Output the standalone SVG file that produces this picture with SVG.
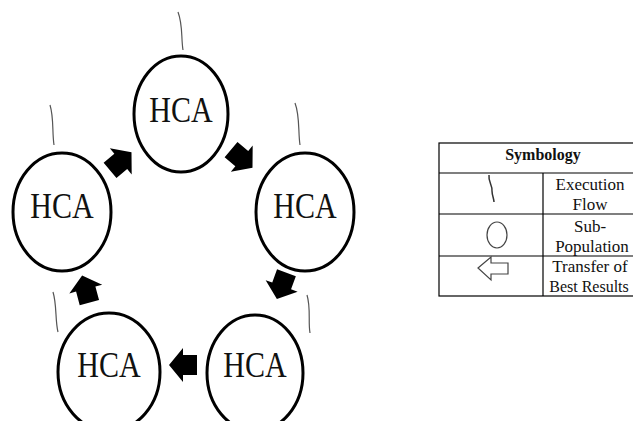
<svg xmlns="http://www.w3.org/2000/svg" width="633" height="421" viewBox="0 0 633 421">
<defs>
<style>
.node ellipse{fill:#fff;stroke:#000;stroke-width:3}
.lbl{font-family:"Liberation Serif","Times New Roman",serif;font-size:30px;fill:#111;text-anchor:middle}
.flow{fill:none;stroke:#555;stroke-width:1.2}
.arr{fill:#000}
.tbl{fill:none;stroke:#000;stroke-width:1.2}
.lt{font-family:"Liberation Serif","Times New Roman",serif;font-size:17px;fill:#111;text-anchor:middle}
</style>
<polygon id="blk" points="-13,-10 1,-10 1,-17 15,0 1,17 1,10 -13,10"/>
</defs>
<rect width="633" height="421" fill="#fff"/>
<g id="flows">
<path class="flow" d="M178,12 C183,25 181,38 183,50"/>
<path class="flow" d="M50,105 C54,118 52,132 54,145"/>
<path class="flow" d="M295,103 C300,116 298,132 300,145"/>
<path class="flow" d="M53,292 C57,305 55,320 58,332"/>
<path class="flow" d="M307,295 C311,308 308,322 310,333"/>
</g>
<g id="node-top" class="node"><ellipse cx="181" cy="114" rx="47" ry="58"/><text class="lbl" transform="translate(181,122) scale(1,1.2)">HCA</text></g>
<g id="node-left" class="node"><ellipse cx="62" cy="212" rx="49" ry="59"/><text class="lbl" transform="translate(62,218) scale(1,1.2)">HCA</text></g>
<g id="node-right" class="node"><ellipse cx="305" cy="212" rx="49" ry="59"/><text class="lbl" transform="translate(305,218) scale(1,1.2)">HCA</text></g>
<g id="node-bl" class="node"><ellipse cx="109" cy="372" rx="51" ry="59"/><text class="lbl" transform="translate(109,377) scale(1,1.2)">HCA</text></g>
<g id="node-br" class="node"><ellipse cx="255" cy="373" rx="48" ry="58"/><text class="lbl" transform="translate(255,377) scale(1,1.2)">HCA</text></g>
<g id="connectors">
<use href="#blk" class="arr" transform="translate(120,162) rotate(-40)"/>
<use href="#blk" class="arr" transform="translate(241,158) rotate(40)"/>
<use href="#blk" class="arr" transform="translate(282,285) rotate(110)"/>
<use href="#blk" class="arr" transform="translate(184,365) rotate(180)"/>
<use href="#blk" class="arr" transform="translate(86,290) rotate(-105)"/>
</g>
<g id="legend">
<rect class="tbl" x="439" y="143" width="210" height="153"/>
<line class="tbl" x1="439" y1="173" x2="649" y2="173"/>
<line class="tbl" x1="439" y1="214" x2="649" y2="214"/>
<line class="tbl" x1="439" y1="256" x2="649" y2="256"/>
<line class="tbl" x1="543" y1="173" x2="543" y2="296"/>
<text class="lt" x="543" y="160" style="font-weight:bold;font-size:16px">Symbology</text>
<path d="M489,175 C488,182 493,186 492,191 C492,195 494,199 494,202" fill="none" stroke="#333" stroke-width="1.5"/>
<ellipse cx="497" cy="235" rx="10" ry="13" fill="none" stroke="#444" stroke-width="1.2"/>
<polygon points="478,268 491,257 491,263 508,263 508,274 491,274 491,280" fill="none" stroke="#444" stroke-width="1.2"/>
<text class="lt" x="590" y="190">Execution</text>
<text class="lt" x="590" y="210">Flow</text>
<text class="lt" x="590" y="232">Sub-</text>
<text class="lt" x="592" y="252">Population</text>
<text class="lt" x="590" y="272">Transfer of</text>
<text class="lt" x="589" y="292" style="font-size:16px">Best Results</text>
</g>
</svg>
